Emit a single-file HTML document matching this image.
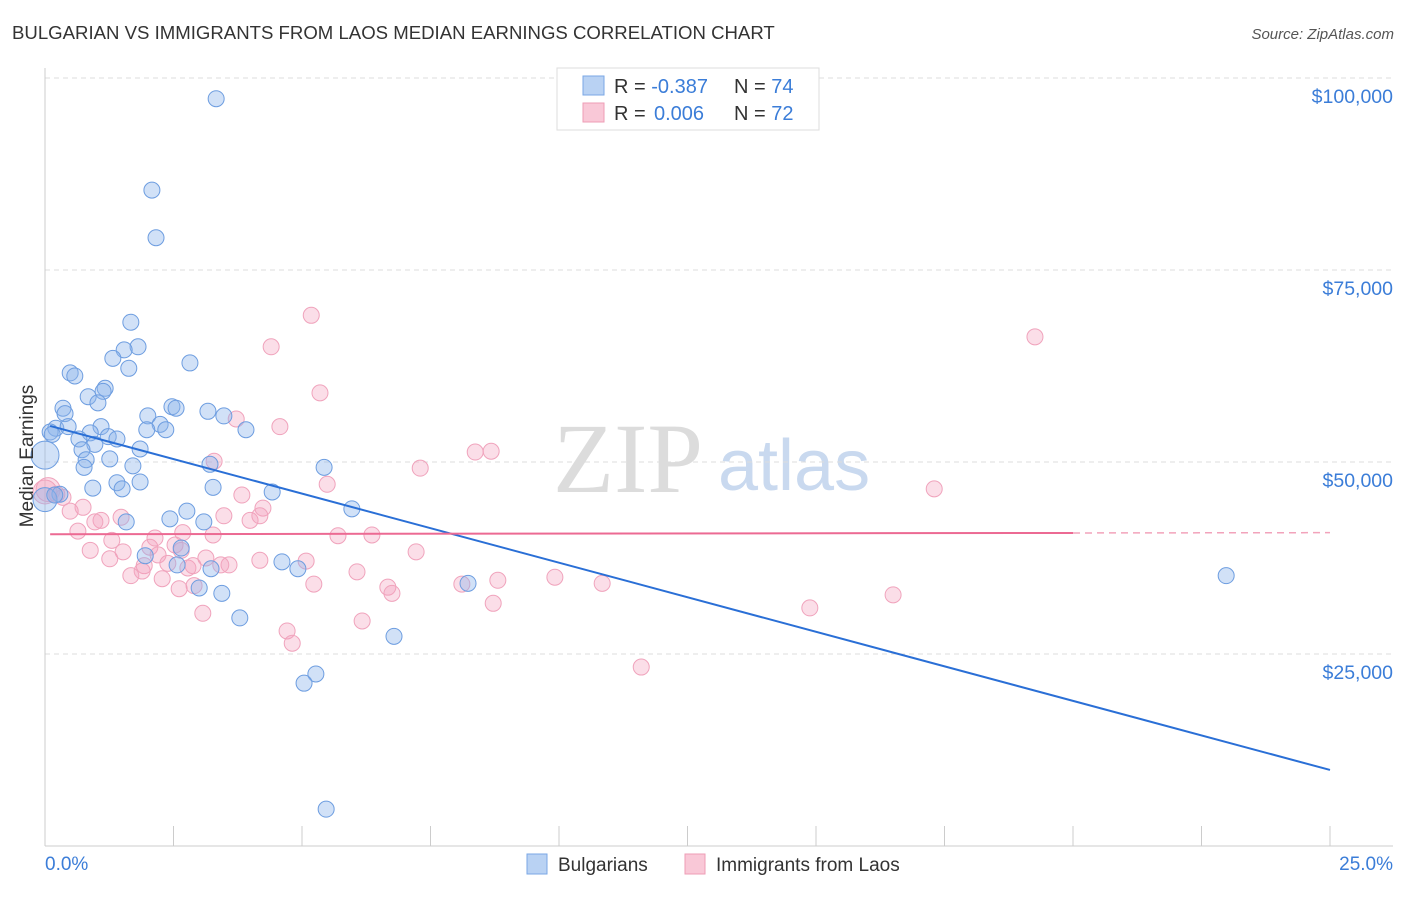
<!DOCTYPE html>
<html><head><meta charset="utf-8"><style>
body{margin:0;background:#fff;font-family:"Liberation Sans",sans-serif;}
svg text{font-family:"Liberation Sans",sans-serif;}
</style></head><body>
<svg id="chart" width="1406" height="892" xmlns="http://www.w3.org/2000/svg">
<text x="12" y="39" font-size="18.6" fill="#333">BULGARIAN VS IMMIGRANTS FROM LAOS MEDIAN EARNINGS CORRELATION CHART</text>
<text x="1394" y="39" font-size="15" fill="#555" font-style="italic" text-anchor="end">Source: ZipAtlas.com</text>
<g>
<text x="553" y="492" font-size="100" fill="#dcdcdc" font-family="Liberation Serif, serif" style="font-family:'Liberation Serif',serif">ZIP</text>
<text x="718" y="490" font-size="72" fill="#c9d9ef">atlas</text>
</g>
<g id="grid"></g>
<g id="axes"></g>
<g id="marks"></g>
<g>
<rect x="557" y="68" width="262" height="62" fill="#fff" stroke="#ddd"/>
<rect x="583" y="76" width="21" height="19" fill="#b9d2f3" stroke="#7aa7e6"/>
<rect x="583" y="103" width="21" height="19" fill="#f9c8d7" stroke="#ee9db6"/>
<text x="614" y="93" font-size="20" fill="#333">R = <tspan fill="#3b7dd8">-0.387</tspan><tspan x="734">N = </tspan><tspan fill="#3b7dd8">74</tspan></text>
<text x="614" y="120" font-size="20" fill="#333">R = <tspan fill="#3b7dd8" x="654">0.006</tspan><tspan x="734">N = </tspan><tspan fill="#3b7dd8">72</tspan></text>
</g>
<g>
<rect x="527" y="854" width="20" height="20" fill="#b9d2f3" stroke="#7aa7e6"/>
<text x="558" y="871" font-size="19" fill="#333">Bulgarians</text>
<rect x="685" y="854" width="20" height="20" fill="#f9c8d7" stroke="#ee9db6"/>
<text x="716" y="871" font-size="19" fill="#333">Immigrants from Laos</text>
</g>
<text transform="translate(33,456) rotate(-90)" font-size="19" fill="#333" text-anchor="middle">Median Earnings</text>
</svg>
<script>
const yTicks=[25000,50000,75000,100000];
const yTickLabels=["$25,000","$50,000","$75,000","$100,000"];
const xTickLabels=["0.0%","25.0%"];
const blueX=[3.33,2.08,2.16,1.67,1.81,1.54,1.32,1.63,0.49,0.58,1.17,1.13,0.84,1.03,2.82,0.35,0.39,2.00,2.47,2.55,3.17,3.48,2.24,2.35,1.98,3.91,0.21,0.10,0.14,0.45,1.09,0.88,1.23,1.40,0.66,0.97,1.85,0.72,1.26,0.80,1.71,0.76,3.21,5.43,1.85,1.40,0.93,1.50,3.27,4.42,0.29,5.97,2.76,2.43,3.09,1.58,2.65,1.95,4.61,4.92,2.57,3.23,3.00,3.44,8.23,22.98,3.79,6.79,5.27,5.04,5.47,0.0,0.0,0.19];
const blueY=[97.3,85.4,79.2,68.2,65.0,64.6,63.5,62.2,61.6,61.2,59.6,59.2,58.5,57.7,62.9,57.0,56.3,56.0,57.2,57.0,56.6,56.0,54.9,54.2,54.2,54.2,54.4,53.9,53.6,54.6,54.6,53.8,53.3,53.0,53.0,52.3,51.7,51.6,50.4,50.3,49.5,49.3,49.7,49.3,47.4,47.3,46.6,46.5,46.7,46.1,45.8,43.9,43.6,42.6,42.2,42.2,38.8,37.8,37.0,36.1,36.6,36.1,33.6,32.9,34.2,35.2,29.7,27.3,22.4,21.2,4.8,50.9,45.1,45.7];
const blueR=[8,8,8,8,8,8,8,8,8,8,8,8,8,8,8,8,8,8,8,8,8,8,8,8,8,8,8,8,8,8,8,8,8,8,8,8,8,8,8,8,8,8,8,8,8,8,8,8,8,8,8,8,8,8,8,8,8,8,8,8,8,8,8,8,8,8,8,8,8,8,8,14,12,8];
const pinkX=[5.18,19.26,4.40,5.35,3.72,4.57,3.29,8.68,8.37,7.30,5.49,17.30,3.83,0.23,0.35,0.49,0.74,4.24,1.09,0.97,1.48,3.48,3.99,4.18,0.64,2.68,3.27,5.70,6.36,1.30,2.04,2.65,1.52,7.22,2.20,5.08,1.26,3.13,1.93,2.39,3.58,2.78,2.88,3.42,1.89,6.07,1.67,2.28,8.81,6.67,5.23,8.11,9.92,10.84,6.75,2.90,2.61,8.72,14.88,16.50,3.07,6.17,4.71,4.81,11.60,0.06,0.0,2.14,2.53,4.18,0.88];
const pinkY=[69.1,66.3,65.0,59.0,55.6,54.6,50.1,51.4,51.3,49.2,47.1,46.5,45.7,45.8,45.4,43.6,44.1,44.0,42.4,42.2,42.8,43.0,42.4,43.0,41.0,40.8,40.5,40.4,40.5,39.8,38.9,38.5,38.3,38.3,37.9,37.1,37.4,37.5,36.5,36.8,36.6,36.2,36.5,36.6,35.8,35.7,35.2,34.8,34.6,33.7,34.1,34.1,35.0,34.2,32.9,33.9,33.5,31.6,31.0,32.7,30.3,29.3,28.0,26.4,23.3,46.4,46.1,40.1,39.2,37.2,38.5];
const blueTrend=[54.7,9.9];
const pinkTrend=[40.6,40.8];
const NS="http://www.w3.org/2000/svg";
const X0=45,X1=1330,YB=846,PX=192/25000;
function xs(v){return X0+(v/25)*(X1-X0);}
function ys(v){return YB-v*PX;}
function mk(tag,attrs,parent){const e=document.createElementNS(NS,tag);for(const k in attrs)e.setAttribute(k,attrs[k]);parent.appendChild(e);return e;}
const grid=document.getElementById('grid'),axes=document.getElementById('axes'),marks=document.getElementById('marks');
yTicks.forEach((t,i)=>{
 const l=mk('line',{x1:45,x2:1393,y1:ys(t),y2:ys(t),stroke:'#ddd','stroke-dasharray':'5,4'},grid);
 
 
 const tx=mk('text',{x:1393,y:ys(t)+25,'font-size':19.5,fill:'#3b7dd8','text-anchor':'end'},axes);
 tx.textContent=yTickLabels[i];
 
 
});
mk('line',{x1:45,x2:45,y1:68,y2:846,stroke:'#ccc'},axes);
mk('line',{x1:45,x2:1393,y1:846,y2:846,stroke:'#ccc'},axes);
for(let i=0;i<=10;i++){const x=xs(i*2.5);mk('line',{x1:x,x2:x,y1:826,y2:846,stroke:'#ccc'},axes);}
const xl0=mk('text',{x:45,y:870,'font-size':19,fill:'#3b7dd8'},axes);xl0.textContent=xTickLabels[0];


const xl1=mk('text',{x:1393,y:870,'font-size':19,fill:'#3b7dd8','text-anchor':'end'},axes);xl1.textContent=xTickLabels[1];


pinkX.forEach((v,i)=>{
 const c=mk('circle',{cx:xs(v),cy:ys(pinkY[i]*1000),r:(i>=65&&i<=66)?12:8,fill:'rgba(244,160,188,0.35)',stroke:'#f0a3bc','stroke-width':1},marks);
 
 
});
blueX.forEach((v,i)=>{
 const c=mk('circle',{cx:xs(v),cy:ys(blueY[i]*1000),r:blueR[i],fill:'rgba(140,180,235,0.4)',stroke:'#6d9de0','stroke-width':1},marks);
 
 
});
const bt=mk('line',{x1:xs(0.1),y1:ys(blueTrend[0]*1000),x2:xs(25),y2:ys(blueTrend[1]*1000),stroke:'#2a6fd6','stroke-width':2},marks);


const pm=pinkTrend[0]+(pinkTrend[1]-pinkTrend[0])*0.8;
const pt=mk('line',{x1:xs(0.1),y1:ys(pinkTrend[0]*1000),x2:xs(20),y2:ys(pm*1000),stroke:'#ec6a93','stroke-width':2},marks);


const pd=mk('line',{x1:xs(20),y1:ys(pm*1000),x2:xs(25),y2:ys(pinkTrend[1]*1000),stroke:'#f2a3bb','stroke-width':1.5,'stroke-dasharray':'7,5'},marks);


</script>
</body></html>
